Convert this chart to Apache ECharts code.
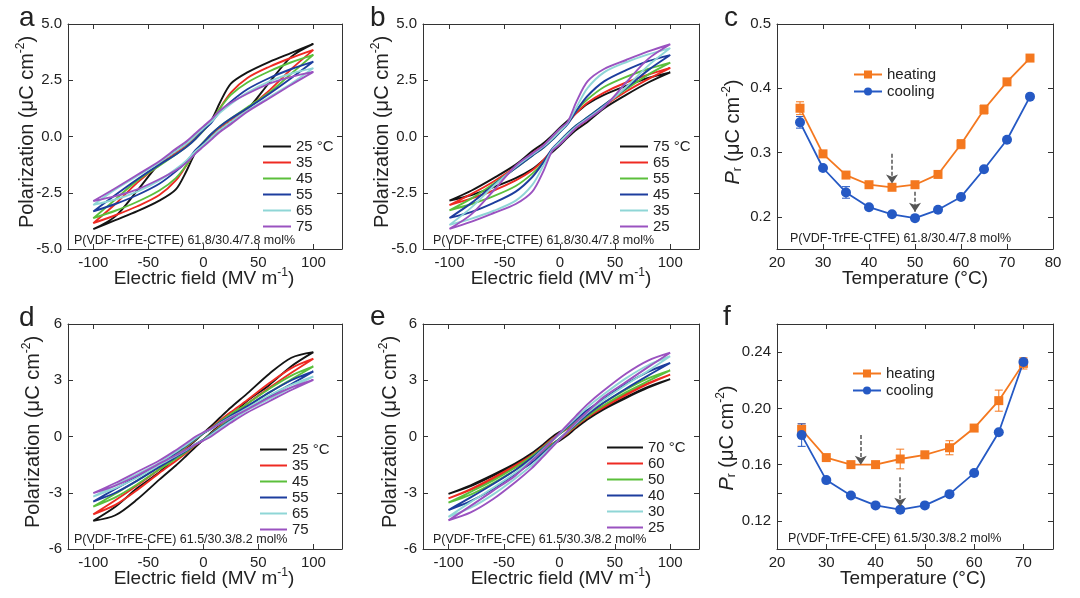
<!DOCTYPE html>
<html><head><meta charset="utf-8">
<script src="https://cdn.jsdelivr.net/npm/echarts@6/dist/echarts.min.js"></script>
<style>html,body{margin:0;padding:0;background:#fff}#chart{width:1080px;height:598px}</style>
</head><body><div id="chart"></div>
<script>
// ---------- DATA ----------
// Field grid of each hysteresis loop: descending branch (+100 -> -100) then ascending branch (-100 -> +100)
const E_DOWN = [100, 80, 60, 40, 25, 15, 7, 0, -7, -15, -25, -40, -60, -80, -100];
const E_UP = [-80, -60, -40, -25, -15, -7, 0, 7, 15, 25, 40, 60, 80, 100];

// Panel a: P(VDF-TrFE-CTFE), heating
const A_LABELS = ['25 °C', '35', '45', '55', '65', '75'];
const A_DOWN = [
  [4.12, 3.72, 3.32, 2.85, 2.35, 1.5, 0.7, 0.37, 0.05, -0.3, -0.65, -1.2, -2.4, -3.55, -4.12],
  [3.85, 3.5, 3.1, 2.6, 1.95, 1.25, 0.65, 0.27, -0.05, -0.4, -0.75, -1.25, -2.05, -3.0, -3.85],
  [3.63, 3.3, 2.9, 2.4, 1.85, 1.25, 0.65, 0.25, -0.1, -0.45, -0.8, -1.3, -1.95, -2.8, -3.63],
  [3.33, 3.0, 2.6, 2.1, 1.55, 1.1, 0.6, 0.27, -0.1, -0.45, -0.8, -1.25, -1.9, -2.6, -3.33],
  [3.04, 2.8, 2.45, 1.95, 1.45, 1.05, 0.65, 0.37, 0.05, -0.3, -0.65, -1.15, -1.75, -2.35, -3.04],
  [2.87, 2.65, 2.35, 1.9, 1.5, 1.15, 0.75, 0.45, 0.15, -0.2, -0.55, -1.1, -1.7, -2.3, -2.87]
];
const A_UP = [
  [-3.72, -3.32, -2.85, -2.35, -1.5, -0.7, -0.37, -0.05, 0.3, 0.65, 1.2, 2.4, 3.55, 4.12],
  [-3.5, -3.1, -2.6, -1.95, -1.25, -0.65, -0.27, 0.05, 0.4, 0.75, 1.25, 2.05, 3.0, 3.85],
  [-3.3, -2.9, -2.4, -1.85, -1.25, -0.65, -0.25, 0.1, 0.45, 0.8, 1.3, 1.95, 2.8, 3.63],
  [-3.0, -2.6, -2.1, -1.55, -1.1, -0.6, -0.27, 0.1, 0.45, 0.8, 1.25, 1.9, 2.6, 3.33],
  [-2.8, -2.45, -1.95, -1.45, -1.05, -0.65, -0.37, -0.05, 0.3, 0.65, 1.15, 1.75, 2.35, 3.04],
  [-2.65, -2.35, -1.9, -1.5, -1.15, -0.75, -0.45, -0.15, 0.2, 0.55, 1.1, 1.7, 2.3, 2.87]
];

// Panel b: P(VDF-TrFE-CTFE), cooling
const B_LABELS = ['75 °C', '65', '55', '45', '35', '25'];
const B_DOWN = [
  [2.85, 2.6, 2.25, 1.85, 1.45, 1.05, 0.7, 0.39, 0.05, -0.3, -0.65, -1.25, -1.85, -2.4, -2.85],
  [3.05, 2.75, 2.4, 1.95, 1.5, 1.05, 0.6, 0.27, -0.05, -0.4, -0.75, -1.35, -2.0, -2.55, -3.05],
  [3.28, 3.0, 2.65, 2.2, 1.65, 1.15, 0.6, 0.21, -0.15, -0.5, -0.85, -1.4, -2.1, -2.75, -3.28],
  [3.62, 3.35, 2.95, 2.45, 1.8, 1.15, 0.55, 0.2, -0.15, -0.5, -0.85, -1.4, -2.15, -2.95, -3.62],
  [3.93, 3.65, 3.3, 2.85, 2.15, 1.3, 0.6, 0.24, -0.1, -0.45, -0.8, -1.35, -2.2, -3.15, -3.93],
  [4.1, 3.78, 3.4, 3.0, 2.45, 1.55, 0.65, 0.35, 0.0, -0.4, -0.75, -1.3, -2.4, -3.45, -4.1]
];
const B_UP = [
  [-2.6, -2.25, -1.85, -1.45, -1.05, -0.7, -0.39, -0.05, 0.3, 0.65, 1.25, 1.85, 2.4, 2.85],
  [-2.75, -2.4, -1.95, -1.5, -1.05, -0.6, -0.27, 0.05, 0.4, 0.75, 1.35, 2.0, 2.55, 3.05],
  [-3.0, -2.65, -2.2, -1.65, -1.15, -0.6, -0.21, 0.15, 0.5, 0.85, 1.4, 2.1, 2.75, 3.28],
  [-3.35, -2.95, -2.45, -1.8, -1.15, -0.55, -0.2, 0.15, 0.5, 0.85, 1.4, 2.15, 2.95, 3.62],
  [-3.65, -3.3, -2.85, -2.15, -1.3, -0.6, -0.24, 0.1, 0.45, 0.8, 1.35, 2.2, 3.15, 3.93],
  [-3.78, -3.4, -3.0, -2.45, -1.55, -0.65, -0.35, 0.0, 0.4, 0.75, 1.3, 2.4, 3.45, 4.1]
];

// Panel d: P(VDF-TrFE-CFE), heating
const D_LABELS = ['25 °C', '35', '45', '55', '65', '75'];
const D_DOWN = [
  [4.5, 4.2, 3.35, 2.3, 1.55, 1.0, 0.55, 0.18, -0.2, -0.6, -1.1, -1.9, -2.75, -3.75, -4.5],
  [4.15, 3.65, 2.85, 1.95, 1.3, 0.85, 0.45, 0.17, -0.15, -0.55, -1.0, -1.75, -2.6, -3.4, -4.15],
  [3.74, 3.25, 2.55, 1.75, 1.2, 0.8, 0.42, 0.16, -0.15, -0.5, -0.95, -1.6, -2.35, -3.05, -3.74],
  [3.47, 3.0, 2.35, 1.62, 1.1, 0.75, 0.4, 0.17, -0.12, -0.47, -0.88, -1.48, -2.15, -2.8, -3.47],
  [3.2, 2.75, 2.2, 1.52, 1.03, 0.7, 0.4, 0.2, -0.08, -0.43, -0.82, -1.4, -2.0, -2.6, -3.2],
  [3.02, 2.62, 2.08, 1.45, 1.0, 0.68, 0.42, 0.22, 0.0, -0.33, -0.73, -1.28, -1.88, -2.48, -3.02]
];
const D_UP = [
  [-4.2, -3.35, -2.3, -1.55, -1.0, -0.55, -0.18, 0.2, 0.6, 1.1, 1.9, 2.75, 3.75, 4.5],
  [-3.65, -2.85, -1.95, -1.3, -0.85, -0.45, -0.17, 0.15, 0.55, 1.0, 1.75, 2.6, 3.4, 4.15],
  [-3.25, -2.55, -1.75, -1.2, -0.8, -0.42, -0.16, 0.15, 0.5, 0.95, 1.6, 2.35, 3.05, 3.74],
  [-3.0, -2.35, -1.62, -1.1, -0.75, -0.4, -0.17, 0.12, 0.47, 0.88, 1.48, 2.15, 2.8, 3.47],
  [-2.75, -2.2, -1.52, -1.03, -0.7, -0.4, -0.2, 0.08, 0.43, 0.82, 1.4, 2.0, 2.6, 3.2],
  [-2.62, -2.08, -1.45, -1.0, -0.68, -0.42, -0.22, 0.0, 0.33, 0.73, 1.28, 1.88, 2.48, 3.02]
];

// Panel e: P(VDF-TrFE-CFE), cooling
const E_LABELS = ['70 °C', '60', '50', '40', '30', '25'];
const E_DOWNP = [
  [3.06, 2.65, 2.1, 1.5, 1.05, 0.72, 0.42, 0.23, -0.05, -0.45, -0.9, -1.45, -2.05, -2.6, -3.06],
  [3.3, 2.85, 2.3, 1.65, 1.15, 0.78, 0.42, 0.15, -0.15, -0.55, -1.0, -1.55, -2.2, -2.8, -3.3],
  [3.53, 3.1, 2.5, 1.8, 1.25, 0.85, 0.45, 0.13, -0.2, -0.6, -1.05, -1.65, -2.35, -2.95, -3.53],
  [3.92, 3.45, 2.8, 2.0, 1.4, 0.9, 0.5, 0.13, -0.25, -0.65, -1.15, -1.8, -2.55, -3.25, -3.92],
  [4.28, 3.8, 3.1, 2.25, 1.55, 1.0, 0.55, 0.15, -0.25, -0.7, -1.25, -1.95, -2.75, -3.5, -4.28],
  [4.47, 4.05, 3.35, 2.45, 1.7, 1.1, 0.6, 0.18, -0.25, -0.75, -1.3, -2.1, -2.9, -3.7, -4.47]
];
const E_UPP = [
  [-2.65, -2.1, -1.5, -1.05, -0.72, -0.42, -0.23, 0.05, 0.45, 0.9, 1.45, 2.05, 2.6, 3.06],
  [-2.85, -2.3, -1.65, -1.15, -0.78, -0.42, -0.15, 0.15, 0.55, 1.0, 1.55, 2.2, 2.8, 3.3],
  [-3.1, -2.5, -1.8, -1.25, -0.85, -0.45, -0.13, 0.2, 0.6, 1.05, 1.65, 2.35, 2.95, 3.53],
  [-3.45, -2.8, -2.0, -1.4, -0.9, -0.5, -0.13, 0.25, 0.65, 1.15, 1.8, 2.55, 3.25, 3.92],
  [-3.8, -3.1, -2.25, -1.55, -1.0, -0.55, -0.15, 0.25, 0.7, 1.25, 1.95, 2.75, 3.5, 4.28],
  [-4.05, -3.35, -2.45, -1.7, -1.1, -0.6, -0.18, 0.25, 0.75, 1.3, 2.1, 2.9, 3.7, 4.47]
];

// Panel c: remanent polarization, CTFE
const T_C = [25, 30, 35, 40, 45, 50, 55, 60, 65, 70, 75];
const C_HEAT = [0.369, 0.298, 0.265, 0.250, 0.246, 0.250, 0.266, 0.313, 0.367, 0.410, 0.447];
const C_HEAT_ERR = [0.010, 0.004, 0.004, 0.003, 0.003, 0.003, 0.003, 0.007, 0.007, 0.005, 0.004];
const C_COOL = [0.347, 0.276, 0.238, 0.215, 0.204, 0.198, 0.211, 0.231, 0.274, 0.320, 0.387];
const C_COOL_ERR = [0.009, 0.003, 0.009, 0.003, 0.003, 0.003, 0.003, 0.003, 0.003, 0.003, 0.003];
const C_ARROWS = [[45, 0.298, 0.252], [50, 0.239, 0.208]];

// Panel f: remanent polarization, CFE
const T_F = [25, 30, 35, 40, 45, 50, 55, 60, 65, 70];
const F_HEAT = [0.185, 0.165, 0.160, 0.160, 0.164, 0.167, 0.172, 0.186, 0.2055, 0.232];
const F_HEAT_ERR = [0.004, 0.001, 0.001, 0.001, 0.007, 0.001, 0.005, 0.001, 0.0075, 0.004];
const F_COOL = [0.181, 0.149, 0.138, 0.131, 0.128, 0.131, 0.139, 0.154, 0.183, 0.233];
const F_COOL_ERR = [0.008, 0.001, 0.001, 0.001, 0.001, 0.001, 0.001, 0.001, 0.001, 0.002];
const F_ARROWS = [[37, 0.181, 0.160], [45, 0.151, 0.130]];

// Tick values
const LOOP_X_TICKS = [-100, -50, 0, 50, 100];
const C_Y_TICKS = [0.2, 0.3, 0.4, 0.5];
const F_X_TICKS = [20, 30, 40, 50, 60, 70];

const NOTE_CTFE = 'P(VDF-TrFE-CTFE) 61.8/30.4/7.8 mol%';
const NOTE_CFE = 'P(VDF-TrFE-CFE) 61.5/30.3/8.2 mol%';

// ---------- STYLE ----------
const FONT = '"Liberation Sans", Arial, Helvetica, sans-serif';
const TXT = '#222';
const AXC = '#333';
const LOOP_COLORS = ['#141414', '#ee2a22', '#5bbf3b', '#1d3d9e', '#8fd6d6', '#9a52c0'];
const ORANGE = '#f4781f';
const BLUE = '#2559c4';

const GRIDS = [
  { left: 68, top: 24, width: 274, height: 225 },
  { left: 423, top: 24, width: 276, height: 225 },
  { left: 777, top: 24, width: 276, height: 225 },
  { left: 68, top: 324, width: 274, height: 225 },
  { left: 423, top: 324, width: 276, height: 225 },
  { left: 777, top: 324, width: 276, height: 225 }
];

function axisBase(gi, min, max, mirror, pos) {
  return {
    type: 'value', gridIndex: gi, min: min, max: max, position: pos, scale: false,
    axisLine: { show: true, onZero: false, lineStyle: { color: AXC, width: 1 } },
    axisTick: { show: true, inside: true, length: 5, lineStyle: { color: AXC, width: 1 } },
    axisLabel: { show: !mirror, color: TXT, fontSize: 15, fontFamily: FONT },
    splitLine: { show: false }
  };
}

const xAxes = [];
const yAxes = [];
const X_RANGES = [[-123, 126], [-124, 126], [20, 80], [-123, 126], [-123, 126], [20, 76]];
const Y_RANGES = [[-5, 5], [-5, 5], [0.15, 0.5], [-6, 6], [-6, 6], [0.10, 0.26]];

for (let m = 0; m < 2; m++) {
  for (let gi = 0; gi < 6; gi++) {
    const mirror = m === 1;
    const xa = axisBase(gi, X_RANGES[gi][0], X_RANGES[gi][1], mirror, mirror ? 'top' : 'bottom');
    const ya = axisBase(gi, Y_RANGES[gi][0], Y_RANGES[gi][1], mirror, mirror ? 'right' : 'left');
    xa.axisLabel.margin = 6;
    ya.axisLabel.margin = 6;
    if (gi === 2) {
      xa.interval = 10;
    } else if (gi === 5) {
      xa.axisTick.customValues = F_X_TICKS;
      xa.axisLabel.customValues = F_X_TICKS;
    } else {
      xa.axisTick.customValues = LOOP_X_TICKS;
      xa.axisLabel.customValues = LOOP_X_TICKS;
    }
    if (gi === 0 || gi === 1) {
      ya.interval = 2.5;
      ya.axisLabel.formatter = v => v.toFixed(1);
    } else if (gi === 3 || gi === 4) {
      ya.interval = 3;
    } else if (gi === 2) {
      ya.axisTick.customValues = C_Y_TICKS;
      ya.axisLabel.customValues = C_Y_TICKS;
      ya.axisLabel.formatter = v => v.toFixed(1);
    } else {
      ya.interval = 0.02;
      ya.axisLabel.formatter = v => {
        const k = Math.round(v * 100);
        return (k % 4 === 0 && k >= 12 && k <= 24) ? (k / 100).toFixed(2) : '';
      };
    }
    xAxes.push(xa);
    yAxes.push(ya);
  }
}

const series = [];
const legends = [];
const LOOP_E = E_DOWN.concat(E_UP);

function addLoops(tag, gi, labels, downs, ups, legendPos, itemW) {
  const names = [];
  labels.forEach((lab, k) => {
    const p = downs[k].concat(ups[k]);
    const name = tag + '|' + lab;
    names.push(name);
    series.push({
      type: 'line', name: name, xAxisIndex: gi, yAxisIndex: gi,
      data: LOOP_E.map((e, j) => [e, p[j]]),
      symbol: 'none', showSymbol: false, smooth: 0.3, silent: true,
      lineStyle: { width: 1.9, color: LOOP_COLORS[k] },
      itemStyle: { color: LOOP_COLORS[k] }, z: 2 + k
    });
  });
  legends.push({
    orient: 'vertical', left: legendPos[0], top: legendPos[1], itemWidth: itemW, itemHeight: 2,
    icon: 'rect', itemGap: 1, data: names, selectedMode: false,
    formatter: n => n.split('|')[1],
    textStyle: { fontSize: 15, color: TXT, fontFamily: FONT }
  });
}

addLoops('a', 0, A_LABELS, A_DOWN, A_UP, [258, 134], 28);
addLoops('b', 1, B_LABELS, B_DOWN, B_UP, [615, 134], 28);
addLoops('d', 3, D_LABELS, D_DOWN, D_UP, [255, 437], 27);
addLoops('e', 4, E_LABELS, E_DOWNP, E_UPP, [602, 435], 36);

function errBars(gi, xs, ys, es, color) {
  return {
    type: 'custom', xAxisIndex: gi, yAxisIndex: gi, silent: true, z: 1,
    data: xs.map((t, i) => [t, ys[i], es[i]]),
    renderItem: (params, api) => {
      const x = api.value(0), y = api.value(1), e = api.value(2);
      const p1 = api.coord([x, y + e]);
      const p2 = api.coord([x, y - e]);
      const w = 4;
      const st = { stroke: color, lineWidth: 1 };
      return {
        type: 'group', children: [
          { type: 'line', shape: { x1: p1[0], y1: p1[1], x2: p2[0], y2: p2[1] }, style: st },
          { type: 'line', shape: { x1: p1[0] - w, y1: p1[1], x2: p1[0] + w, y2: p1[1] }, style: st },
          { type: 'line', shape: { x1: p2[0] - w, y1: p2[1], x2: p2[0] + w, y2: p2[1] }, style: st }
        ]
      };
    }
  };
}

function addPr(tag, gi, xs, heat, heatErr, cool, coolErr, arrows, legendPos) {
  series.push(errBars(gi, xs, heat, heatErr, ORANGE));
  series.push(errBars(gi, xs, cool, coolErr, BLUE));
  series.push({
    type: 'line', name: tag + '|heating', xAxisIndex: gi, yAxisIndex: gi,
    data: xs.map((t, i) => [t, heat[i]]), symbol: 'rect', symbolSize: 9, silent: true,
    lineStyle: { width: 1.8, color: ORANGE }, itemStyle: { color: ORANGE }, z: 3
  });
  series.push({
    type: 'line', name: tag + '|cooling', xAxisIndex: gi, yAxisIndex: gi,
    data: xs.map((t, i) => [t, cool[i]]), symbol: 'circle', symbolSize: 10, silent: true,
    lineStyle: { width: 1.8, color: BLUE }, itemStyle: { color: BLUE }, z: 3
  });
  series.push({
    type: 'line', xAxisIndex: gi, yAxisIndex: gi, data: [], silent: true,
    markLine: {
      silent: true, symbol: ['none', 'arrow'], symbolSize: 9, animation: false,
      label: { show: false },
      lineStyle: { type: [4, 2], color: '#555', width: 1.5 },
      data: arrows.map(a => [{ coord: [a[0], a[1]] }, { coord: [a[0], a[2]] }])
    }
  });
  legends.push({
    orient: 'vertical', left: legendPos[0], top: legendPos[1], itemWidth: 28, itemHeight: 10,
    itemGap: 2, data: [tag + '|heating', tag + '|cooling'], selectedMode: false,
    formatter: n => n.split('|')[1],
    textStyle: { fontSize: 15, color: TXT, fontFamily: FONT }
  });
}

addPr('c', 2, T_C, C_HEAT, C_HEAT_ERR, C_COOL, C_COOL_ERR, C_ARROWS, [848, 62]);
addPr('f', 5, T_F, F_HEAT, F_HEAT_ERR, F_COOL, F_COOL_ERR, F_ARROWS, [847, 361]);

// ---------- TEXT GRAPHICS ----------
const RICH = {
  sup: { fontSize: 12, fontFamily: FONT, fill: TXT, padding: [0, 0, 12, 0] },
  sub: { fontSize: 12, fontFamily: FONT, fill: TXT, padding: [10, 0, 0, 0] },
  it: { fontStyle: 'italic', fontSize: 20, fontFamily: FONT, fill: TXT }
};
function txt(x, y, text, size, align, valign, rot) {
  return {
    type: 'text', x: x, y: y, rotation: rot || 0, silent: true,
    style: {
      text: text, fontSize: size, fontFamily: FONT, fill: TXT,
      align: align, verticalAlign: valign, textAlign: align, textVerticalAlign: valign,
      rich: RICH
    }
  };
}
const R = Math.PI / 2;
const graphics = [
  txt(19, 4, 'a', 28, 'left', 'top'),
  txt(370, 4, 'b', 28, 'left', 'top'),
  txt(724, 4, 'c', 28, 'left', 'top'),
  txt(19, 304, 'd', 28, 'left', 'top'),
  txt(370, 303, 'e', 28, 'left', 'top'),
  txt(723, 303, 'f', 28, 'left', 'top'),
  txt(74, 241, NOTE_CTFE, 12.5, 'left', 'middle'),
  txt(433, 241, NOTE_CTFE, 12.5, 'left', 'middle'),
  txt(790, 239, NOTE_CTFE, 12.5, 'left', 'middle'),
  txt(74, 540, NOTE_CFE, 12.5, 'left', 'middle'),
  txt(433, 540, NOTE_CFE, 12.5, 'left', 'middle'),
  txt(788, 539, NOTE_CFE, 12.5, 'left', 'middle'),
  txt(204, 279, 'Electric field (MV m{sup|-1})', 19, 'center', 'middle'),
  txt(561, 279, 'Electric field (MV m{sup|-1})', 19, 'center', 'middle'),
  txt(915, 279, 'Temperature (°C)', 19, 'center', 'middle'),
  txt(204, 579, 'Electric field (MV m{sup|-1})', 19, 'center', 'middle'),
  txt(561, 579, 'Electric field (MV m{sup|-1})', 19, 'center', 'middle'),
  txt(913, 579, 'Temperature (°C)', 19, 'center', 'middle'),
  txt(27, 132, 'Polarization (μC cm{sup|-2})', 20, 'center', 'middle', R),
  txt(382, 132, 'Polarization (μC cm{sup|-2})', 20, 'center', 'middle', R),
  txt(733, 132, '{it|P}{sub|r} (μC cm{sup|-2})', 20, 'center', 'middle', R),
  txt(33, 432, 'Polarization (μC cm{sup|-2})', 20, 'center', 'middle', R),
  txt(390, 432, 'Polarization (μC cm{sup|-2})', 20, 'center', 'middle', R),
  txt(727, 438, '{it|P}{sub|r} (μC cm{sup|-2})', 20, 'center', 'middle', R)
];

const chart = echarts.init(document.getElementById('chart'), null, { renderer: 'canvas' });
chart.setOption({
  animation: false,
  backgroundColor: '#fff',
  textStyle: { fontFamily: FONT },
  grid: GRIDS,
  xAxis: xAxes,
  yAxis: yAxes,
  legend: legends,
  series: series,
  graphic: graphics
});
</script>
</body></html>
